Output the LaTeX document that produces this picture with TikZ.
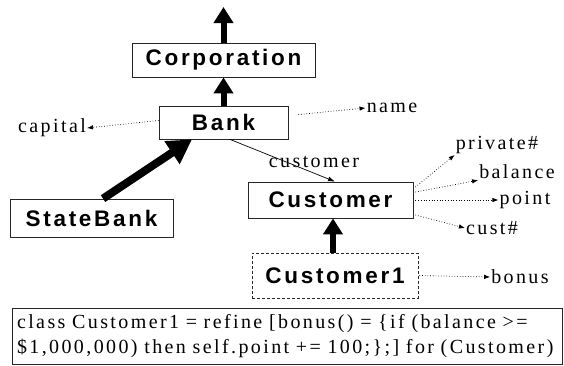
\documentclass[tikz,border=0pt]{standalone}
\usepackage{fontspec}
\setmainfont{Liberation Serif}[LetterSpace=12]
\newfontfamily\hv{Liberation Sans}[LetterSpace=12]
\usetikzlibrary{arrows.meta,calc}
\begin{document}
\begin{tikzpicture}[x=1pt,y=-1pt,
  box/.style={draw=black!85, line width=0.8pt, inner sep=0pt, font=\hv\bfseries\fontsize{22.5}{26}\selectfont},
  attr/.style={inner sep=1pt, font=\fontsize{20}{24}\selectfont},
  dotarrow/.style={dotted, line width=0.7pt, -{Latex[length=6pt,width=4.5pt]}},
  isa/.style={line width=6pt, -{Triangle[length=16pt,width=19pt]}},
  codebox/.style={draw=black!85, line width=0.8pt, inner xsep=5pt, inner ysep=0pt, minimum height=56pt, text width=540pt, align=left, font=\fontsize{20}{25}\selectfont}
]
\useasboundingbox (0,0) rectangle (564,365);
% class boxes
\node[box, minimum width=183pt, minimum height=34pt] (corp) at (223.5,60) {Corporation};
\node[box, minimum width=129pt, minimum height=33pt] (bank) at (223.5,122.5) {Bank};
\node[box, minimum width=163pt, minimum height=38pt] (statebank) at (91.5,218) {StateBank};
\node[box, minimum width=165pt, minimum height=36pt] (customer) at (330.5,200) {Customer};
\node[box, dashed, dash pattern=on 3pt off 2pt, minimum width=166pt, minimum height=45pt] (customer1) at (335,275.5) {Customer1};
\node[codebox] (code) at (287,336) {class Customer1 = refine [bonus() = \{if (balance >=\\\$1,000,000) then self.point += 100;\};] for (Customer)};
% inheritance arrows
\coordinate (top) at (223.5,7);
\draw[isa] (corp.north) -- (top);
\draw[isa] (bank.north) -- (corp.south);
\draw[isa, line width=8pt, -{Triangle[length=24pt,width=26pt]}] ($(statebank.north)+(11.5,0)$) -- ($(bank.south)+(-31.5,0)$);
\coordinate (c1top) at ($(customer1.north)+(-2,0)$);
\coordinate (custbot) at (c1top |- customer.south);
\draw[isa] (c1top) -- (custbot);
% reference
\node[attr] (custlab) at (314,162) {customer};
\draw[line width=0.7pt, -{Latex[length=7pt,width=5pt]}] ($(bank.south)+(6.5,0)$) -- ($(customer.north)+(4.5,0)$);
% attributes
\node[attr] (capital) at (52,128) {capital};
\draw[dotarrow] ($(bank.west)+(0,-2)$) -- (capital.east);
\node[attr] (name) at (392,108) {name};
\draw[dotarrow] ($(bank.east)+(10,-8)$) -- (name.west);
\node[attr] (priv) at (497,145) {private\#};
\draw[dotarrow] ($(customer.east)+(2,-13)$) -- (priv.south west);
\node[attr] (bal) at (517,172) {balance};
\draw[dotarrow] ($(customer.east)+(2,-8)$) -- (bal.south west);
\node[attr] (point) at (525,200) {point};
\draw[dotarrow] ($(customer.east)+(2,0)$) -- (point.west);
\node[attr] (cust) at (492,228) {cust\#};
\draw[dotarrow] ($(customer.east)+(2,15)$) -- (cust.west);
\node[attr] (bonus) at (520,277) {bonus};
\draw[dotarrow] ($(customer1.east)+(1,0)$) -- (bonus.west);
\end{tikzpicture}
\end{document}
